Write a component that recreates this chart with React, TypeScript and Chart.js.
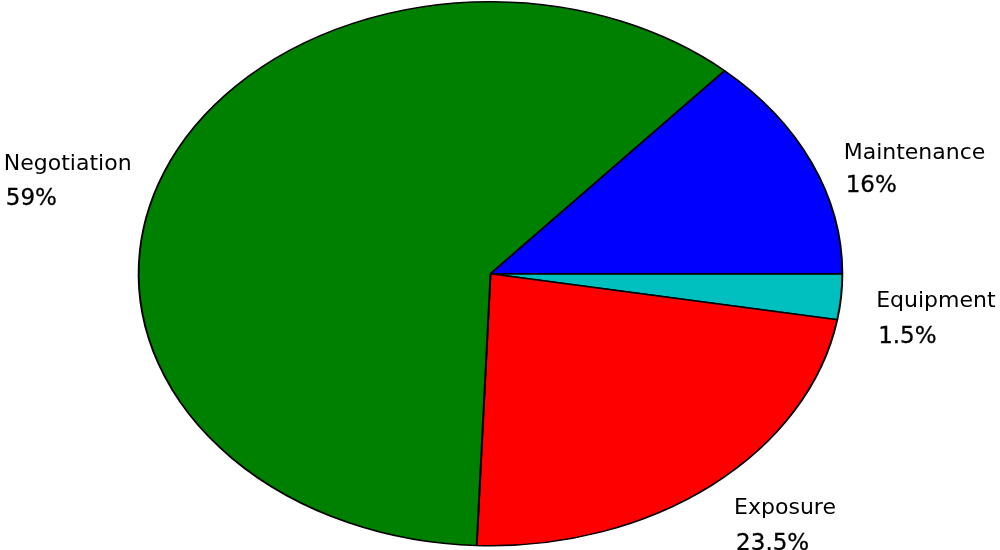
import React, { useEffect, useRef } from "react";
import { Chart, registerables } from "chart.js";

Chart.register(...registerables);

// Categories in counter-clockwise order starting at 3 o'clock
const categories = ["Maintenance", "Negotiation", "Exposure", "Equipment"];
const values = [13.4, 60.9, 22.9, 2.7];
const percentLabels = ["16%", "59%", "23.5%", "1.5%"];
const colors = ["#0000ff", "#008000", "#ff0000", "#00bfbf"];

const SX = 352.5 / 272.5; // horizontal stretch of the pie (elliptical)
const NAME_FONT = "22px 'DejaVu Sans'";
const PCT_FONT = "23px 'DejaVu Sans'";

const ellipsePlugin = {
  id: "ellipsePie",
  beforeDatasetsDraw(chart: any) {
    const arc = chart.getDatasetMeta(0).data[0];
    const ctx = chart.ctx;
    ctx.save();
    ctx.translate(arc.x, arc.y);
    ctx.scale(SX, 1);
    ctx.translate(-arc.x, -arc.y);
  },
  afterDatasetsDraw(chart: any) {
    const ctx = chart.ctx;
    ctx.restore();
    const meta = chart.getDatasetMeta(0);
    const labels: string[] = chart.data.labels;
    const pcts: string[] = (chart.data.datasets[0] as any).pctLabels;
    ctx.save();
    ctx.fillStyle = "#000";
    ctx.strokeStyle = "#000";
    ctx.textBaseline = "alphabetic";
    ctx.textAlign = "left";
    meta.data.forEach((arc: any, i: number) => {
      const mid = (arc.startAngle + arc.endAngle) / 2;
      const r = arc.outerRadius * 1.1;
      const ax = arc.x + r * SX * Math.cos(mid);
      const ay = arc.y + r * Math.sin(mid);
      const l1 = labels[i];
      const l2 = pcts[i];
      ctx.font = NAME_FONT;
      const m1 = ctx.measureText(l1);
      const w1 = m1.width;
      ctx.font = PCT_FONT;
      const w2 = ctx.measureText(l2).width;
      const w = Math.max(w1, w2);
      const left = Math.cos(mid) < 0 ? ax - w : ax;
      const base = ay + 8;
      // line spacing grows with the first line's descent (like matplotlib)
      const gap = 33 + Math.max(0, m1.actualBoundingBoxDescent) * 0.6;
      ctx.font = NAME_FONT;
      ctx.fillText(l1, left, base);
      ctx.font = PCT_FONT;
      ctx.lineWidth = 0.3;
      ctx.fillText(l2, left + 2, base + gap);
      ctx.strokeText(l2, left + 2, base + gap);
    });
    ctx.restore();
  },
};

export default function App() {
  const ref = useRef<HTMLCanvasElement | null>(null);
  useEffect(() => {
    document.body.style.margin = "0";
    const canvas = ref.current!;
    const order = [3, 2, 1, 0]; // clockwise from 3 o'clock
    const chart = new Chart(canvas, {
      type: "pie",
      data: {
        labels: order.map((i) => categories[i]),
        datasets: [
          {
            data: order.map((i) => values[i]),
            backgroundColor: order.map((i) => colors[i]),
            borderColor: "#000000",
            borderWidth: 1.5,
            clip: false,
            pctLabels: order.map((i) => percentLabels[i]),
          } as any,
        ],
      },
      options: {
        responsive: false,
        animation: false,
        devicePixelRatio: 1,
        rotation: 90,
        layout: { padding: { top: 1, bottom: 3.5, left: 200, right: 219 } },
        plugins: {
          legend: { display: false },
          tooltip: { enabled: false },
        },
      },
      plugins: [ellipsePlugin],
    });
    return () => chart.destroy();
  }, []);
  return (
    <div style={{ width: 1000, height: 550, background: "#fff" }}>
      <canvas ref={ref} width={1000} height={550} style={{ display: "block" }} />
    </div>
  );
}
